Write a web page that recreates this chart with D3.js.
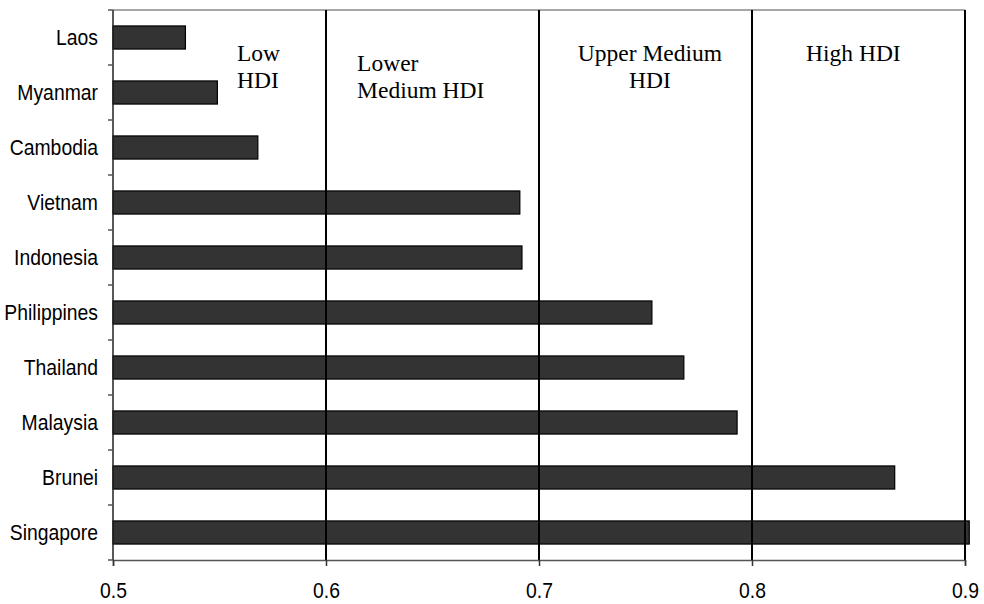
<!DOCTYPE html>
<html>
<head>
<meta charset="utf-8">
<script src="https://cdn.jsdelivr.net/npm/d3@7"></script>
<style>
  html, body { margin: 0; padding: 0; background: #fff; }
  svg { display: block; }
</style>
</head>
<body>
<svg id="chart" width="984" height="604"></svg>
<script>
const countries = ["Laos", "Myanmar", "Cambodia", "Vietnam", "Indonesia", "Philippines", "Thailand", "Malaysia", "Brunei", "Singapore"];
const hdi = [0.534, 0.549, 0.568, 0.691, 0.692, 0.753, 0.768, 0.793, 0.867, 0.902];
const xTicks = [0.5, 0.6, 0.7, 0.8, 0.9];
const xTickLabels = ["0.5", "0.6", "0.7", "0.8", "0.9"];
const bands = [
  { lines: ["Low", "HDI"], at: 0.5582, anchor: "start" },
  { lines: ["Lower", "Medium HDI"], at: 0.6146, anchor: "start" },
  { lines: ["Upper Medium", "HDI"], at: 0.7521, anchor: "middle" },
  { lines: ["High HDI"], at: 0.8476, anchor: "middle" }
];

const svg = d3.select("#chart");
const margin = { left: 113, right: 19, top: 10, bottom: 44 };
const W = 984, H = 604;
const iw = W - margin.left - margin.right;
const ih = H - margin.top - margin.bottom;

const x = d3.scaleLinear().domain([0.5, 0.9]).range([margin.left, margin.left + iw]);
const y = d3.scaleBand().domain(countries).range([margin.top, margin.top + ih]).padding(0);
const bw = y.bandwidth();
const barH = bw * 0.42;

const data = countries.map((c, i) => ({ c, v: hdi[i] }));

// top border
svg.append("line")
  .attr("x1", x(0.5)).attr("x2", x(0.9))
  .attr("y1", margin.top).attr("y2", margin.top)
  .attr("stroke", "#8a8a8a").attr("stroke-width", 1.5);

// bars
svg.append("g").selectAll("rect").data(data).join("rect")
  .attr("x", x(0.5))
  .attr("y", d => y(d.c) + (bw - barH) / 2)
  .attr("width", d => x(d.v) - x(0.5))
  .attr("height", barH)
  .attr("fill", "#333333")
  .attr("stroke", "#000")
  .attr("stroke-width", 1.2);

// vertical lines at 0.6..0.9
svg.append("g").selectAll("line").data(xTicks.slice(1)).join("line")
  .attr("x1", d => x(d)).attr("x2", d => x(d))
  .attr("y1", margin.top).attr("y2", margin.top + ih)
  .attr("stroke", "#000").attr("stroke-width", 2);

// x axis
const xAxis = d3.axisBottom(x).tickValues(xTicks).tickSize(6)
  .tickFormat((d, i) => xTickLabels[i]);
const gx = svg.append("g").attr("transform", `translate(0,${margin.top + ih})`).call(xAxis);
gx.select(".domain").attr("stroke", "#555").attr("stroke-width", 1.5);
gx.selectAll(".tick line").attr("stroke", "#333").attr("stroke-width", 1.5);
gx.selectAll(".tick text").remove();
gx.selectAll(".tick").append("text")
  .attr("transform", "translate(0,38) scale(0.88,1)")
  .attr("text-anchor", "middle")
  .attr("fill", "#000")
  .style("font-family", "'Liberation Sans', Arial, sans-serif")
  .style("font-size", "22px")
  .text((d, i) => xTickLabels[i]);

// y axis line
svg.append("line")
  .attr("x1", x(0.5)).attr("x2", x(0.5))
  .attr("y1", margin.top).attr("y2", margin.top + ih)
  .attr("stroke", "#222").attr("stroke-width", 1.5);

// y ticks at band boundaries
const bounds = countries.map(c => y(c)).concat([margin.top + ih]);
svg.append("g").selectAll("line").data(bounds).join("line")
  .attr("x1", x(0.5) - 5).attr("x2", x(0.5))
  .attr("y1", d => d).attr("y2", d => d)
  .attr("stroke", "#555").attr("stroke-width", 1.5);

// y labels
svg.append("g").selectAll("text").data(countries).join("text")
  .attr("transform", d => `translate(${x(0.5) - 15},${y(d) + bw / 2 + 7.5}) scale(0.88,1)`)
  .attr("text-anchor", "end")
  .attr("fill", "#000")
  .style("font-family", "'Liberation Sans', Arial, sans-serif")
  .style("font-size", "22px")
  .text(d => d);

// band annotations
const ann = svg.append("g")
  .style("font-family", "'Liberation Serif', 'Times New Roman', serif")
  .style("font-size", "23.5px")
  .attr("fill", "#000");
bands.forEach((b, bi) => {
  const baseY = (bi === 1) ? 71 : 61;
  const t = ann.append("text")
    .attr("text-anchor", b.anchor);
  b.lines.forEach((ln, li) => {
    t.append("tspan").attr("x", x(b.at)).attr("y", baseY + li * 27).text(ln);
  });
});
</script>
</body>
</html>
